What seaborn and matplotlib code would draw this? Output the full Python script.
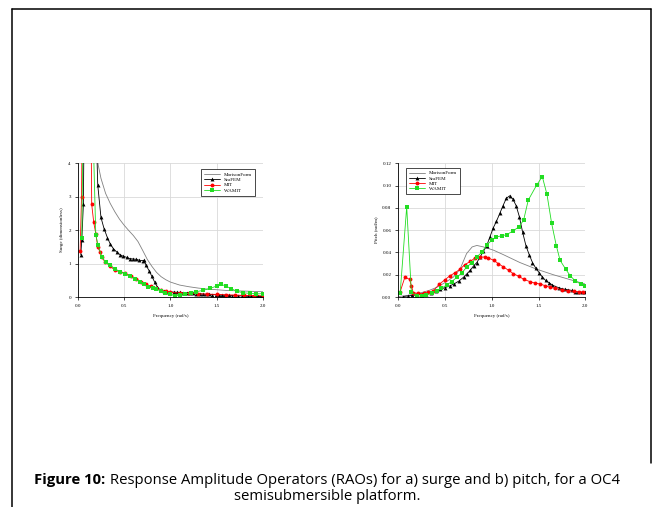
import matplotlib
matplotlib.use("Agg")
import matplotlib.pyplot as plt
import seaborn as sns
from matplotlib.lines import Line2D

# ---- surge RAO (dimensionless) ----
surge_morison_f = [0.18, 0.2, 0.22, 0.25, 0.3, 0.35, 0.4, 0.45, 0.5, 0.55, 0.6, 0.65, 0.7, 0.75,
                   0.8, 0.85, 0.9, 0.95, 1.0, 1.1, 1.2, 1.3, 1.4, 1.5, 1.6, 1.7, 1.8, 1.9, 2.0]
surge_morison_v = [6.0, 4.6, 3.95, 3.55, 3.1, 2.8, 2.55, 2.33, 2.15, 1.99, 1.84, 1.66, 1.4, 1.13,
                   0.92, 0.74, 0.61, 0.52, 0.45, 0.36, 0.31, 0.27, 0.24, 0.22, 0.2, 0.19, 0.18, 0.17, 0.16]

surge_seafem_f = [0.032, 0.043, 0.06, 0.07, 0.19, 0.215, 0.25, 0.283, 0.319, 0.348, 0.383, 0.42, 0.455,
                  0.49, 0.527, 0.56, 0.595, 0.63, 0.665, 0.7, 0.72, 0.735, 0.77, 0.8, 0.83, 0.86, 0.895,
                  0.93, 0.965, 1.0, 1.035, 1.07, 1.105, 1.14, 1.175, 1.21, 1.245, 1.28, 1.315, 1.35,
                  1.385, 1.42, 1.455, 1.49, 1.525, 1.56, 1.595, 1.63, 1.665, 1.7, 1.735, 1.77, 1.805,
                  1.84, 1.875, 1.91, 1.945, 1.98]
surge_seafem_v = [1.27, 1.72, 2.77, 6.0, 6.0, 3.36, 2.38, 2.05, 1.78, 1.6, 1.45, 1.35, 1.27,
                  1.22, 1.19, 1.15, 1.14, 1.13, 1.1, 1.09, 1.1, 0.96, 0.79, 0.62, 0.45, 0.3, 0.2,
                  0.17, 0.16, 0.155, 0.15, 0.145, 0.14, 0.13, 0.125, 0.12, 0.11, 0.105, 0.1, 0.09,
                  0.085, 0.08, 0.075, 0.07, 0.065, 0.06, 0.055, 0.05, 0.045, 0.04, 0.04, 0.035, 0.03,
                  0.03, 0.025, 0.025, 0.02, 0.02]

surge_mit_f = [0.025, 0.04, 0.05, 0.14, 0.15, 0.172, 0.194, 0.215, 0.24, 0.258, 0.294, 0.35, 0.4,
               0.455, 0.51, 0.57, 0.63, 0.68, 0.74, 0.79, 0.85, 0.9, 0.95, 1.0, 1.1, 1.2, 1.3, 1.4,
               1.5, 1.6, 1.7, 1.8, 1.9, 2.0]
surge_mit_v = [1.38, 3.0, 6.0, 6.0, 2.77, 2.23, 1.9, 1.5, 1.35, 1.2, 1.05, 0.93, 0.8,
               0.76, 0.71, 0.63, 0.55, 0.46, 0.38, 0.32, 0.26, 0.21, 0.17, 0.14, 0.12, 0.11, 0.1, 0.09,
               0.08, 0.07, 0.06, 0.05, 0.045, 0.04]

surge_wamit_f = [0.043, 0.06, 0.155, 0.194, 0.22, 0.258, 0.3, 0.35, 0.4, 0.455, 0.51, 0.56, 0.62,
                 0.67, 0.72, 0.76, 0.81, 0.85, 0.9, 0.94, 1.0, 1.05, 1.1, 1.16, 1.22, 1.28, 1.35, 1.43,
                 1.5, 1.55, 1.6, 1.66, 1.72, 1.79, 1.86, 1.93, 2.0]
surge_wamit_v = [1.78, 6.0, 6.0, 1.85, 1.55, 1.2, 1.05, 0.95, 0.84, 0.76, 0.69, 0.62, 0.54,
                 0.46, 0.38, 0.31, 0.27, 0.23, 0.18, 0.13, 0.08, 0.04, 0.05, 0.09, 0.13, 0.16, 0.2, 0.26,
                 0.33, 0.38, 0.33, 0.25, 0.17, 0.13, 0.11, 0.1, 0.1]

# ---- pitch RAO (rad/m) ----
pitch_morison_f = [0.0, 0.1, 0.23, 0.33, 0.41, 0.5, 0.59, 0.66, 0.73, 0.79, 0.84, 0.91, 1.02, 1.125,
                   1.3, 1.48, 1.66, 1.84, 2.0]
pitch_morison_v = [0.0005, 0.0015, 0.0036, 0.006, 0.0087, 0.013, 0.018, 0.025, 0.039, 0.045, 0.0463,
                   0.045, 0.042, 0.038, 0.031, 0.025, 0.02, 0.0156, 0.0117]

pitch_seafem_f = [0.05, 0.1, 0.15, 0.2, 0.25, 0.3, 0.35, 0.4, 0.45, 0.5, 0.55, 0.6, 0.65, 0.7, 0.735,
                  0.77, 0.805, 0.84, 0.875, 0.91, 0.945, 0.98, 1.015, 1.05, 1.085, 1.12, 1.155, 1.19,
                  1.225, 1.26, 1.295, 1.33, 1.365, 1.4, 1.435, 1.47, 1.505, 1.54, 1.575, 1.61, 1.645,
                  1.68, 1.715, 1.75, 1.785, 1.82, 1.855, 1.89, 1.925, 1.96, 1.995]
pitch_seafem_v = [0.0005, 0.001, 0.0015, 0.002, 0.0025, 0.003, 0.004, 0.0055, 0.007, 0.0085, 0.01,
                  0.012, 0.0145, 0.018, 0.021, 0.024, 0.028, 0.031, 0.036, 0.041, 0.046, 0.054, 0.062,
                  0.068, 0.075, 0.082, 0.0885, 0.0908, 0.088, 0.082, 0.072, 0.058, 0.046, 0.038, 0.031,
                  0.026, 0.022, 0.018, 0.015, 0.013, 0.011, 0.0095, 0.0085, 0.0075, 0.007, 0.0065,
                  0.006, 0.005, 0.0043, 0.0042, 0.0042]

pitch_mit_f = [0.02, 0.07, 0.12, 0.14, 0.16, 0.21, 0.27, 0.32, 0.375, 0.44, 0.5, 0.55, 0.61, 0.66,
               0.71, 0.77, 0.82, 0.875, 0.93, 0.96, 1.02, 1.07, 1.125, 1.18, 1.23, 1.29, 1.34, 1.41,
               1.46, 1.52, 1.57, 1.625, 1.68, 1.75, 1.82, 1.875, 1.93, 1.98]
pitch_mit_v = [0.0048, 0.0177, 0.016, 0.01, 0.004, 0.0033, 0.0033, 0.0042, 0.0057, 0.0117, 0.0156,
               0.019, 0.022, 0.025, 0.029, 0.032, 0.035, 0.0358, 0.036, 0.0352, 0.033, 0.03, 0.027,
               0.024, 0.021, 0.0186, 0.016, 0.0138, 0.0126, 0.0117, 0.0102, 0.0087, 0.0078, 0.0066,
               0.0057, 0.0051, 0.0048, 0.0048]

pitch_wamit_f = [0.02, 0.09, 0.14, 0.2, 0.25, 0.3, 0.36, 0.41, 0.46, 0.52, 0.57, 0.625, 0.68, 0.73,
                 0.79, 0.84, 0.89, 0.95, 1.0, 1.05, 1.11, 1.16, 1.23, 1.29, 1.34, 1.39, 1.48, 1.54,
                 1.59, 1.64, 1.69, 1.73, 1.79, 1.84, 1.89, 1.95, 2.0]
pitch_wamit_v = [0.0036, 0.081, 0.0042, 0.0012, 0.0006, 0.0018, 0.0036, 0.0057, 0.0078, 0.011,
                 0.0138, 0.0177, 0.0217, 0.0268, 0.031, 0.036, 0.04, 0.047, 0.051, 0.054, 0.055,
                 0.056, 0.0595, 0.063, 0.069, 0.087, 0.1005, 0.108, 0.092, 0.066, 0.046, 0.033,
                 0.025, 0.019, 0.0147, 0.0117, 0.0096]

names = ["MorisonForm", "SeaFEM", "MIT", "WAMIT"]
colors = ["#808080", "black", "red", "#22dd22"]
markers = [None, "^", "o", "s"]

sns.set_style("white")
plt.rcParams["font.family"] = ["Liberation Serif", "DejaVu Serif"]
plt.rcParams["text.color"] = "black"
plt.rcParams["axes.labelcolor"] = "black"
plt.rcParams["xtick.color"] = "black"
plt.rcParams["ytick.color"] = "black"

fig = plt.figure(figsize=(6.54, 5.07), dpi=100)
ax1 = fig.add_axes([0.119, 0.414, 0.283, 0.264])
ax2 = fig.add_axes([0.609, 0.414, 0.286, 0.264])

surge = [(surge_morison_f, surge_morison_v), (surge_seafem_f, surge_seafem_v),
         (surge_mit_f, surge_mit_v), (surge_wamit_f, surge_wamit_v)]
pitch = [(pitch_morison_f, pitch_morison_v), (pitch_seafem_f, pitch_seafem_v),
         (pitch_mit_f, pitch_mit_v), (pitch_wamit_f, pitch_wamit_v)]

for ax, series in [(ax1, surge), (ax2, pitch)]:
    for (f, v), name, c, m in zip(series, names, colors, markers):
        sns.lineplot(x=f, y=v, ax=ax, color=c, marker=m, markersize=2.8,
                     markeredgewidth=0, linewidth=0.6, label=name, sort=False)

fs = 3.6
ax1.set_xlim(0, 2.0)
ax1.set_ylim(0, 4)
ax1.set_yticks([0, 1, 2, 3, 4])
ax1.set_yticklabels(["0", "1", "2", "3", "4"])
ax1.set_ylabel("Surge (dimensionless)", fontsize=fs, labelpad=3)

ax2.set_xlim(0, 2.0)
ax2.set_ylim(0, 0.12)
ax2.set_yticks([0, 0.02, 0.04, 0.06, 0.08, 0.10, 0.12])
ax2.set_yticklabels(["0.00", "0.02", "0.04", "0.06", "0.08", "0.10", "0.12"])
ax2.set_ylabel("Pitch (rad/m)", fontsize=fs, labelpad=3)

for ax in (ax1, ax2):
    ax.set_xticks([0, 0.5, 1.0, 1.5, 2.0])
    ax.set_xticklabels(["0.0", "0.5", "1.0", "1.5", "2.0"])
    ax.set_xlabel("Frequency (rad/s)", fontsize=fs, labelpad=4)
    ax.grid(True, color="#d9d9d9", linewidth=0.6)
    ax.set_axisbelow(True)
    ax.tick_params(labelsize=fs, length=2, width=0.5, pad=3, direction="out",
                   bottom=True, left=True)
    ax.spines["left"].set_color("black")
    ax.spines["bottom"].set_color("black")
    ax.spines["left"].set_linewidth(0.6)
    ax.spines["bottom"].set_linewidth(0.6)
    ax.spines["top"].set_visible(False)
    ax.spines["right"].set_visible(False)

leg_kw = dict(fontsize=fs, frameon=True, fancybox=False, framealpha=1, edgecolor="black",
              handlelength=3.2, borderpad=0.6, labelspacing=0.15, borderaxespad=0)
l1 = ax1.legend(loc="upper right", bbox_to_anchor=(0.955, 0.955), **leg_kw)
l2 = ax2.legend(loc="upper left", bbox_to_anchor=(0.04, 0.965), **leg_kw)
for lg in (l1, l2):
    lg.get_frame().set_linewidth(0.5)

# page frame
fig.add_artist(Line2D([0.018, 0.018], [0.0, 0.982], color="black", linewidth=1.1))
fig.add_artist(Line2D([0.018, 0.995], [0.982, 0.982], color="black", linewidth=1.1))
fig.add_artist(Line2D([0.995, 0.995], [0.982, 0.087], color="black", linewidth=1.1))

# caption
cap_font = ["Open Sans", "DejaVu Sans"]
cap_size = 10.7
bold = "Figure 10:"
rest = " Response Amplitude Operators (RAOs) for a) surge and b) pitch, for a OC4"
renderer = fig.canvas.get_renderer()
tb = fig.text(0, 0, bold, fontsize=cap_size, fontweight="bold", family=cap_font, color="black")
tr = fig.text(0, 0, rest, fontsize=cap_size, family=cap_font, color="black")
wb = tb.get_window_extent(renderer).width
wr = tr.get_window_extent(renderer).width
W = fig.get_figwidth() * fig.dpi
x0 = (W - wb - wr) / 2 / W
y1 = 1 - 480 / 507
tb.set_position((x0, y1))
tr.set_position((x0 + wb / W, y1))
tb.set_va("center")
tr.set_va("center")
fig.text(0.5, 1 - 497 / 507, "semisubmersible platform.", fontsize=cap_size, family=cap_font,
         ha="center", va="center", color="black")

fig.savefig("out.png", dpi=100)
